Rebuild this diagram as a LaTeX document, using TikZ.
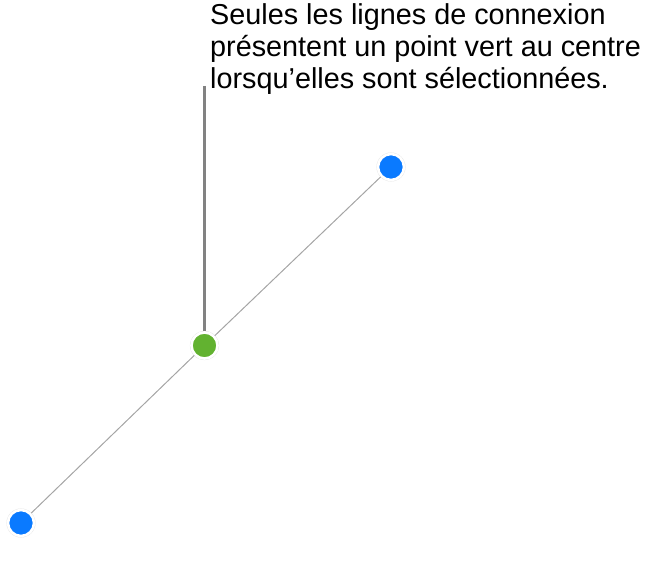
\documentclass[tikz,border=0pt]{standalone}
\usepackage{fontspec}
\setmainfont{Liberation Sans}
\usetikzlibrary{shadows}
\definecolor{dotblue}{RGB}{10,122,255}
\definecolor{dotgreen}{RGB}{98,178,48}
\definecolor{linegray}{RGB}{165,165,165}
\definecolor{callgray}{RGB}{130,130,130}
\tikzset{
  handle/.style={circle, draw=white, line width=2.6pt, inner sep=0pt, minimum size=26pt, drop shadow={opacity=0.2, shadow xshift=0pt, shadow yshift=0pt, shadow scale=1.12}},
  connector/.style={draw=linegray, line width=1pt},
  callout/.style={draw=callgray, line width=2.6pt},
  label/.style={anchor=north west, align=left, inner sep=0pt, font=\fontsize{28.8}{32.3}\selectfont}
}
\begin{document}
\begin{tikzpicture}[x=1pt,y=-1pt]
\useasboundingbox (0,0) rectangle (670,569);
\coordinate (calltop) at (204.5,86);
\node[handle, fill=dotblue] (b1) at (391,167) {};
\node[handle, fill=dotblue] (b2) at (21,523) {};
\node[handle, fill=dotgreen] (g) at (204.5,345.5) {};
\draw[connector] (b2) -- (g);
\draw[connector] (g) -- (b1);
\draw[callout] (calltop) -- (g);
\node[label] (t) at (210,3.3) {Seules les lignes de connexion\\présentent un point vert au centre\\lorsqu’elles sont sélectionnées.};
\end{tikzpicture}
\end{document}
